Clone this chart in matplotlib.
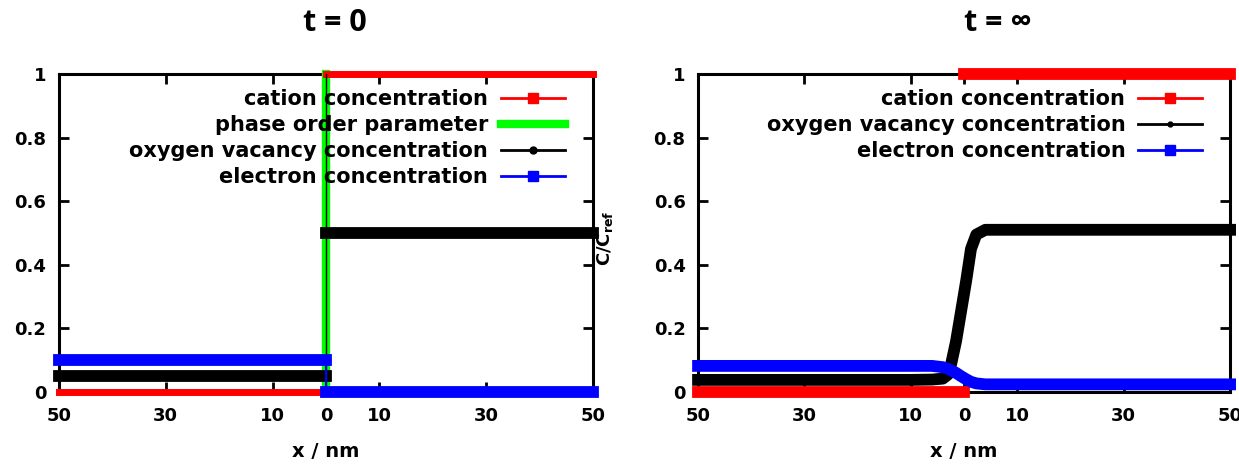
import matplotlib
matplotlib.use("Agg")
import matplotlib.pyplot as plt
from matplotlib.lines import Line2D

plt.rcParams['font.family'] = ['DejaVu Sans']
plt.rcParams['font.weight'] = 'bold'

# x positions of the ticks (nm) and the labels printed under them
x_ticks = [-50, -30, -10, 0, 10, 30, 50]
x_tick_labels = ['50', '30', '10', '0', '10', '30', '50']
y_ticks = [0, 0.2, 0.4, 0.6, 0.8, 1]
y_tick_labels = ['0', '0.2', '0.4', '0.6', '0.8', '1']

# t = 0: sharp step profiles, one value on each side of the interface
step_edges = [-50, 0, 50]
t0_cation = [0.0, 1.0]
t0_phase = [0.0, 1.0]
t0_vacancy = [0.05, 0.5]
t0_electron = [0.1, 0.0]

# t = inf: relaxed profiles
inf_cation = [0.0, 1.0]
inf_x = [-50, -10, -6, -4, -3, -2.4, -1.5, -0.6, 0.4, 1.3, 2.3, 4, 6, 10, 50]
inf_vacancy = [0.038, 0.038, 0.039, 0.042, 0.055, 0.09, 0.16, 0.25, 0.35, 0.45,
               0.495, 0.51, 0.51, 0.51, 0.51]
inf_electron = [0.082, 0.082, 0.082, 0.078, 0.073, 0.068, 0.06, 0.05, 0.04, 0.032,
                0.027, 0.024, 0.024, 0.024, 0.024]

RED, GREEN, BLACK, BLUE = '#ff0000', '#00ff00', '#000000', '#0000ff'
BAND = 8.5   # thick data bands
THIN = 1.5
TITLE_FONT = ['Open Sans', 'DejaVu Sans']


def bands(ax, values, color, lw=BAND):
    for i, v in enumerate(values):
        ax.plot([step_edges[i], step_edges[i + 1]], [v, v], color=color, lw=lw,
                solid_capstyle='projecting', clip_on=False)


def jump(ax, values, color, lw=THIN):
    ax.plot([step_edges[1], step_edges[1]], values, color=color, lw=lw, clip_on=False)


def style(ax):
    ax.set_xlim(-50, 50)
    ax.set_ylim(0, 1)
    ax.set_xticks(x_ticks)
    ax.set_xticklabels(x_tick_labels)
    ax.set_yticks(y_ticks)
    ax.set_yticklabels(y_tick_labels)
    ax.tick_params(direction='in', length=7, width=2, top=True, right=True,
                   labelsize=13, colors='black')
    ax.tick_params(axis='x', pad=11)
    ax.tick_params(axis='y', pad=9)
    for s in ax.spines.values():
        s.set_linewidth(2.2)
        s.set_zorder(1)
    ax.set_xlabel('x / nm', fontsize=14, fontweight='bold', labelpad=12)


def legend_handles(with_phase):
    h = [Line2D([], [], color=RED, lw=2, marker='s', ms=7, label='cation concentration')]
    if with_phase:
        h.append(Line2D([], [], color=GREEN, lw=6, label='phase order parameter'))
    h.append(Line2D([], [], color=BLACK, lw=2, marker='o', ms=5 if with_phase else 3.5,
                    label='oxygen vacancy concentration'))
    h.append(Line2D([], [], color=BLUE, lw=2, marker='s', ms=7, label='electron concentration'))
    return h


def add_legend(ax, with_phase):
    ax.legend(handles=legend_handles(with_phase), loc='upper right',
              bbox_to_anchor=(0.948, 0.952), frameon=False, markerfirst=False,
              fontsize=15, handlelength=3.1, handletextpad=0.6, labelspacing=0.29,
              borderpad=0, borderaxespad=0)


fig = plt.figure(figsize=(12.39, 4.70), dpi=100)
ax1 = fig.add_axes([0.0476, 0.166, 0.431, 0.6766])
ax2 = fig.add_axes([0.5634, 0.166, 0.4294, 0.6766])

# left panel, t = 0
bands(ax1, t0_phase, GREEN, lw=3)
jump(ax1, t0_phase, GREEN, lw=6)
bands(ax1, t0_cation, RED, lw=5)
jump(ax1, t0_phase, BLACK, lw=1)
bands(ax1, t0_vacancy, BLACK)
bands(ax1, t0_electron, BLUE)
jump(ax1, t0_electron, BLUE)
style(ax1)
add_legend(ax1, True)
ax1.text(0.517, 1.16, 't = 0', transform=ax1.transAxes, ha='center', va='center',
         fontsize=22, fontweight='bold', family=TITLE_FONT)

# right panel, t = inf
bands(ax2, inf_cation, RED)
ax2.plot(inf_x, inf_vacancy, color=BLACK, lw=BAND, solid_capstyle='projecting',
         solid_joinstyle='round', clip_on=False)
ax2.plot(inf_x, inf_electron, color=BLUE, lw=BAND, solid_capstyle='projecting',
         solid_joinstyle='round', clip_on=False)
style(ax2)
add_legend(ax2, False)
ax2.text(0.564, 1.16, 't = \u221e', transform=ax2.transAxes, ha='center', va='center',
         fontsize=22, fontweight='bold', family=TITLE_FONT)

fig.text(605 / 1239, 1 - 238 / 470, r'C/C$_{\mathbf{ref}}$', rotation=90, ha='center',
         va='center', fontsize=13, fontweight='bold')

fig.savefig('out.png', dpi=100)
